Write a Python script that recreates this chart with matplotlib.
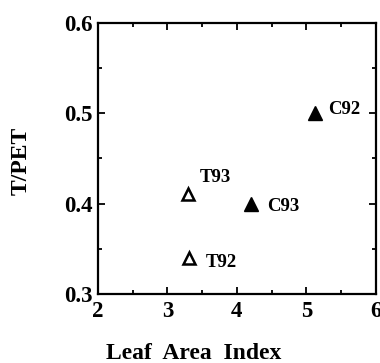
import matplotlib.pyplot as plt
from matplotlib.ticker import MultipleLocator

# Leaf area index against transpiration / potential ET
lai_open = [3.29, 3.31]
tpet_open = [0.411, 0.340]
names_open = ['T93', 'T92']

lai_filled = [4.20, 5.12]
tpet_filled = [0.400, 0.500]
names_filled = ['C93', 'C92']

plt.rcParams['font.family'] = ['Liberation Serif', 'DejaVu Serif']
plt.rcParams['font.weight'] = 'bold'

fig = plt.figure(figsize=(3.8, 3.63), dpi=100)
ax = fig.add_axes([0.258, 0.19, 0.731, 0.747])

ax.plot(lai_open, tpet_open, linestyle='none', marker='^', markersize=9,
        markerfacecolor='white', markeredgecolor='black', markeredgewidth=1.8)
ax.plot(lai_filled, tpet_filled, linestyle='none', marker='^', markersize=10,
        markerfacecolor='black', markeredgecolor='black')

# point labels
offsets = {'T93': (9, 12), 'T92': (12, -3), 'C93': (12, -2), 'C92': (10, 3)}
for x, y, name in zip(lai_open + lai_filled, tpet_open + tpet_filled,
                      names_open + names_filled):
    ax.annotate(name, (x, y), xytext=offsets[name], textcoords='offset points',
                fontsize=13.5, fontweight='bold', va='center', ha='left')

ax.set_xlim(2, 6)
ax.set_ylim(0.3, 0.6)
ax.xaxis.set_major_locator(MultipleLocator(1))
ax.xaxis.set_minor_locator(MultipleLocator(0.5))
ax.yaxis.set_major_locator(MultipleLocator(0.1))
ax.yaxis.set_minor_locator(MultipleLocator(0.05))
ax.tick_params(which='both', direction='in', top=True, right=True, width=1.3)
ax.tick_params(which='major', length=5, labelsize=16.5)
ax.tick_params(axis='x', which='major', pad=5)
ax.tick_params(axis='y', which='major', pad=4)
ax.tick_params(which='minor', length=3)
for lab in ax.get_xticklabels() + ax.get_yticklabels():
    lab.set_fontweight('bold')
for sp in ax.spines.values():
    sp.set_linewidth(1.6)

ax.set_xlabel('Leaf  Area  Index', fontsize=17, fontweight='bold')
ax.xaxis.set_label_coords(0.345, -0.18)
ax.set_ylabel('T/PET', fontsize=17, fontweight='bold')
ax.yaxis.set_label_coords(-0.24, 0.49)

fig.savefig('out.png', dpi=100)
